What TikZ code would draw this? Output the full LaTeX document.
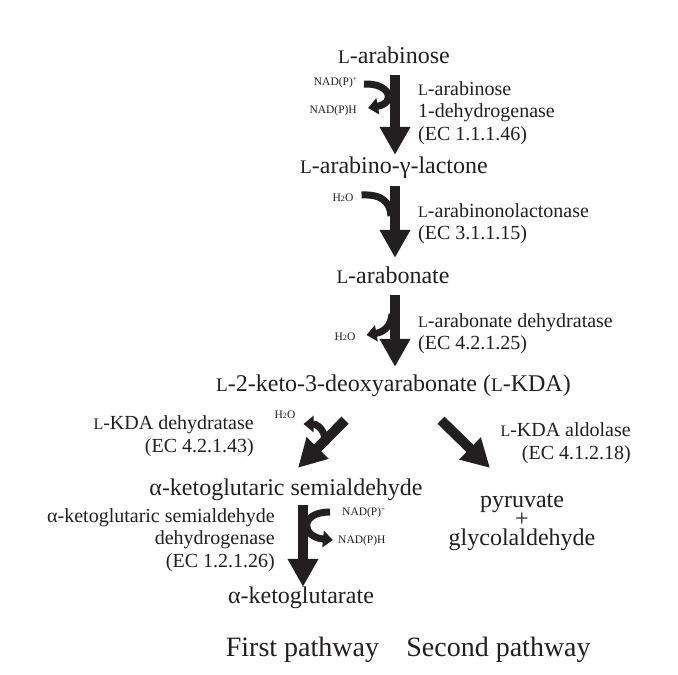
\documentclass[tikz,border=0pt]{standalone}
\usepackage{fontspec}
\setmainfont{Liberation Serif}
\usetikzlibrary{arrows.meta,calc}
\definecolor{ink}{HTML}{231F20}
\newcommand\Ls{\scalebox{0.8}{L}}
\newcommand\fs[2]{\fontsize{#1}{#2}\selectfont}
\newcommand\water{H\scalebox{0.7}{2}O}
\newcommand\nadp{NAD(P)\raisebox{4pt}{\scalebox{0.6}{+}}}
\begin{document}
\begin{tikzpicture}[x=1pt,y=-1pt,
 met/.style={font=\fs{24}{27}, inner sep=2pt, text height=17pt, text depth=6pt, text=ink},
 prd/.style={font=\fs{24}{19}, inner sep=0pt, text=ink, align=center},
 enz/.style={font=\fs{20}{22.5}, inner sep=0pt, text=ink},
 cof/.style={font=\fs{11.5}{13}, inner sep=0pt, text=ink},
 pathlab/.style={font=\fs{28}{30}, inner sep=0pt, text=ink},
 main/.style={draw=ink, line width=10pt, -{Triangle[width=29pt,length=28pt]}},
 side/.style={draw=ink, line width=7pt, -{Triangle[width=16pt,length=10pt]}},
 sidein/.style={draw=ink, line width=7pt}
]
\useasboundingbox (0,0) rectangle (678,675);
\fill[white] (0,0) rectangle (678,675);

% metabolites
\node[met] (ara) at (394,58) {\Ls-arabinose};
\node[met] (lac) at (394,168) {\Ls-arabino-γ-lactone};
\node[met] (arb) at (393,278) {\Ls-arabonate};
\node[met] (kda) at (393.5,386) {\Ls-2-keto-3-deoxyarabonate (\Ls-KDA)};
\node[met] (ksa) at (286,490) {α-ketoglutaric semialdehyde};
\node[met] (kg) at (301,598) {α-ketoglutarate};
\node[prd] (prod) at (522,522) {pyruvate\\+\\glycolaldehyde};

% enzymes
\node[enz, anchor=west, align=left] (e1) at (418,113) {\Ls-arabinose\\1-dehydrogenase\\(EC 1.1.1.46)};
\node[enz, anchor=west, align=left] (e2) at (418,223.5) {\Ls-arabinonolactonase\\(EC 3.1.1.15)};
\node[enz, anchor=west, align=left] (e3) at (418,333.5) {\Ls-arabonate dehydratase\\(EC 4.2.1.25)};
\node[enz, anchor=east, align=right] (e4) at (254,436) {\Ls-KDA dehydratase\\(EC 4.2.1.43)};
\node[enz, anchor=east, align=right] (e5) at (631,443) {\Ls-KDA aldolase\\(EC 4.1.2.18)};
\node[enz, anchor=east, align=right] (e6) at (275,540) {α-ketoglutaric semialdehyde\\dehydrogenase\\(EC 1.2.1.26)};

% cofactors
\node[cof, anchor=east] (np1) at (357,83) {\nadp};
\node[cof, anchor=east] (nh1) at (357,111) {NAD(P)H};
\node[cof] (h1) at (343,198) {\water};
\node[cof] (h2) at (345,337) {\water};
\node[cof] (h3) at (285,415) {\water};
\node[cof, anchor=west] (np2) at (342,513) {\nadp};
\node[cof, anchor=west] (nh2) at (338,541) {NAD(P)H};

% pathway labels
\node[pathlab] (p1) at (302.5,650) {First pathway};
\node[pathlab] (p2) at (498.5,650) {Second pathway};

% main arrows
\draw[main] ($(ara.south)+(1,3.5)$) -- ($(lac.north)+(1,0.5)$);
\draw[main] ($(lac.south)+(1,4.5)$) -- ($(arb.north)+(2,-6.5)$);
\draw[main] ($(arb.south)+(2,3.5)$) -- ($(kda.north)+(1.5,-5.5)$);
\draw[main] ($(kda.south)+(-48.5,20.5)$) -- ($(ksa.north)+(12,-8.5)$);
\draw[main] ($(kda.south)+(47.5,20.5)$) -- ($(prod.north)+(-32,-25.5)$);
\draw[main] ($(ksa.south)+(17,1.5)$) -- ($(kg.north)+(2,2.5)$);

% side arrows
\draw[side] ($(np1.east)+(7,1)$) .. controls (391,83) and (396,103) .. ($(nh1.east)+(11,-3)$);
\draw[sidein] ($(h1.east)+(8,-3)$) .. controls (382,194) and (390,202) .. (391,216);
\draw[side] (392,314) .. controls (391,326) and (384,332) .. ($(h2.east)+(11,-2)$);
\draw[side] (325,437) .. controls (322,427) and (316,424) .. ($(h3.east)+(8,9)$);
\draw[side] ($(np2.west)+(-12,-1)$) .. controls (299,512) and (301,537) .. ($(nh2.west)+(-5,-1)$);
\end{tikzpicture}
\end{document}
